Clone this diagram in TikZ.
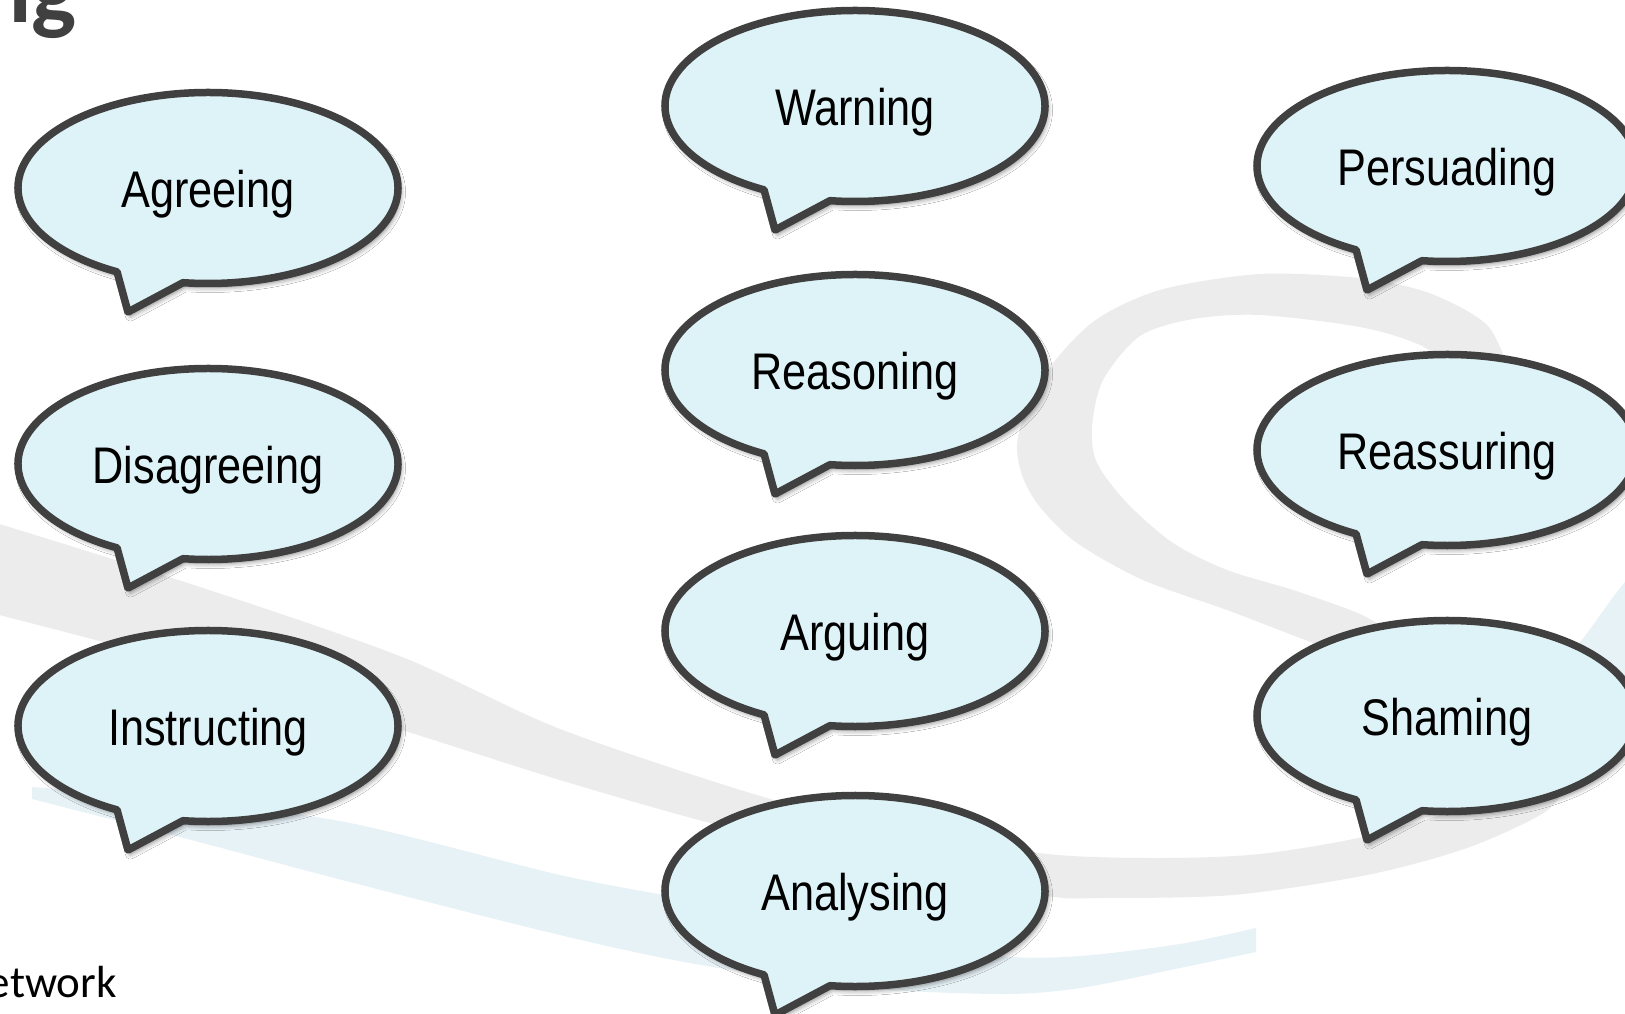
\documentclass[tikz,border=0pt]{standalone}
\usepackage{fontspec}
\usetikzlibrary{shadows.blur}
\newfontfamily\bubblefont{Liberation Sans}[FakeStretch=0.84]
\newfontfamily\slidefont{Carlito}

\definecolor{bubblefill}{RGB}{222,243,248}
\definecolor{bubbleline}{RGB}{64,64,64}
\definecolor{swirlgray}{RGB}{236,236,236}
\definecolor{swirlblue}{RGB}{231,242,247}
\definecolor{titlegray}{RGB}{64,64,64}

% speech bubble: name, centre x, centre y, text
\newcommand\speechbubble[4]{%
  \begin{scope}[shift={(#2,#3)}]
    \path[bubbleshape] (118.6:190 and 95.5)
      arc[start angle=118.6, end angle=457.56, x radius=190, y radius=95.5]
      -- (-80,124) -- cycle;
    \node[bubbletext] (#1) at (0,19.5) {#4};
  \end{scope}}

\begin{document}
\begin{tikzpicture}[x=1pt,y=-1pt,
  bubbleshape/.style={fill=bubblefill, draw=bubbleline, line width=7.5pt,
    line join=round,
    blur shadow={shadow xshift=2.5pt, shadow yshift=-4pt,
      shadow blur radius=5pt, shadow opacity=50}},
  bubbletext/.style={anchor=base, inner sep=0pt, text=black,
    font=\bubblefont\fontsize{51.5}{60}\selectfont},
  graybelt/.style={fill=swirlgray},
  bluebelt/.style={fill=swirlblue}]

\useasboundingbox (0,0) rectangle (1625,1014);
\fill[white] (0,0) rectangle (1625,1014);

\begin{scope}
\clip (0,0) rectangle (1625,1014);

% long grey belt from the left edge, sweeping under the lower bubbles
\fill[graybelt]
  plot[smooth] coordinates {(-20,518) (200,587) (402,657) (560,729) (760,796)
    (900,831) (1047,854) (1160,858) (1260,854) (1367,836) (1467,806)
    (1520,780) (1550,750)}
  -- plot[smooth] coordinates {(1570,780) (1545,812) (1467,848) (1367,875)
    (1233,895) (1100,898) (1047,896) (900,870) (710,823) (560,780)
    (402,730) (200,668) (-20,610)}
  -- cycle;

% grey loop on the right
\fill[graybelt]
  plot[smooth] coordinates {(1515,385) (1500,347) (1487,325) (1460,307)
    (1420,290) (1360,278) (1260,274) (1160,290) (1093,322) (1043,377)
    (1018,437) (1022,475) (1040,507) (1077,543) (1143,580) (1227,610)
    (1300,638) (1385,670)}
  -- plot[smooth] coordinates {(1395,635) (1360,614) (1293,590) (1227,570)
    (1173,543) (1127,503) (1097,463) (1092,427) (1103,380) (1140,336)
    (1193,319) (1260,315) (1360,327) (1420,345) (1465,375)}
  -- cycle;

% pale blue belt along the bottom
\fill[bluebelt]
  plot[smooth] coordinates {(32,787) (180,800) (350,823) (560,875) (690,900)
    (850,933) (1000,956) (1080,956) (1180,944) (1256,928)}
  -- plot[smooth] coordinates {(1256,952) (1180,968) (1080,988) (1000,994)
    (850,987) (690,963) (560,935) (350,882) (180,837) (32,799)}
  -- cycle;

% pale blue arc at the right edge
\fill[bluebelt] (1550,710) -- (1578,645) .. controls (1594,625) and (1610,600) .. (1625,582)
  -- (1650,565) -- (1650,720) -- cycle;

% bubbles
\speechbubble{agree}{208}{188}{Agreeing}
\speechbubble{disagree}{208}{464}{Disagreeing}
\speechbubble{instruct}{208}{726}{Instructing}

\speechbubble{warn}{855}{106}{Warning}
\speechbubble{reason}{855}{370}{Reasoning}
\speechbubble{argue}{855}{631}{Arguing}
\speechbubble{analyse}{855}{891}{Analysing}

\speechbubble{persuade}{1447}{166}{Persuading}
\speechbubble{reassure}{1447}{450}{Reassuring}
\speechbubble{shame}{1447}{716}{Shaming}

% slide text running off the edges
\node[anchor=base east, inner sep=0pt, text=titlegray,
  font=\slidefont\bfseries\fontsize{95}{100}\selectfont] (heading) at (77,23) {ng};
\node[anchor=base east, inner sep=0pt, text=black,
  font=\slidefont\fontsize{45}{50}\selectfont] (footer) at (117,997) {etwork};
\end{scope}
\end{tikzpicture}
\end{document}
